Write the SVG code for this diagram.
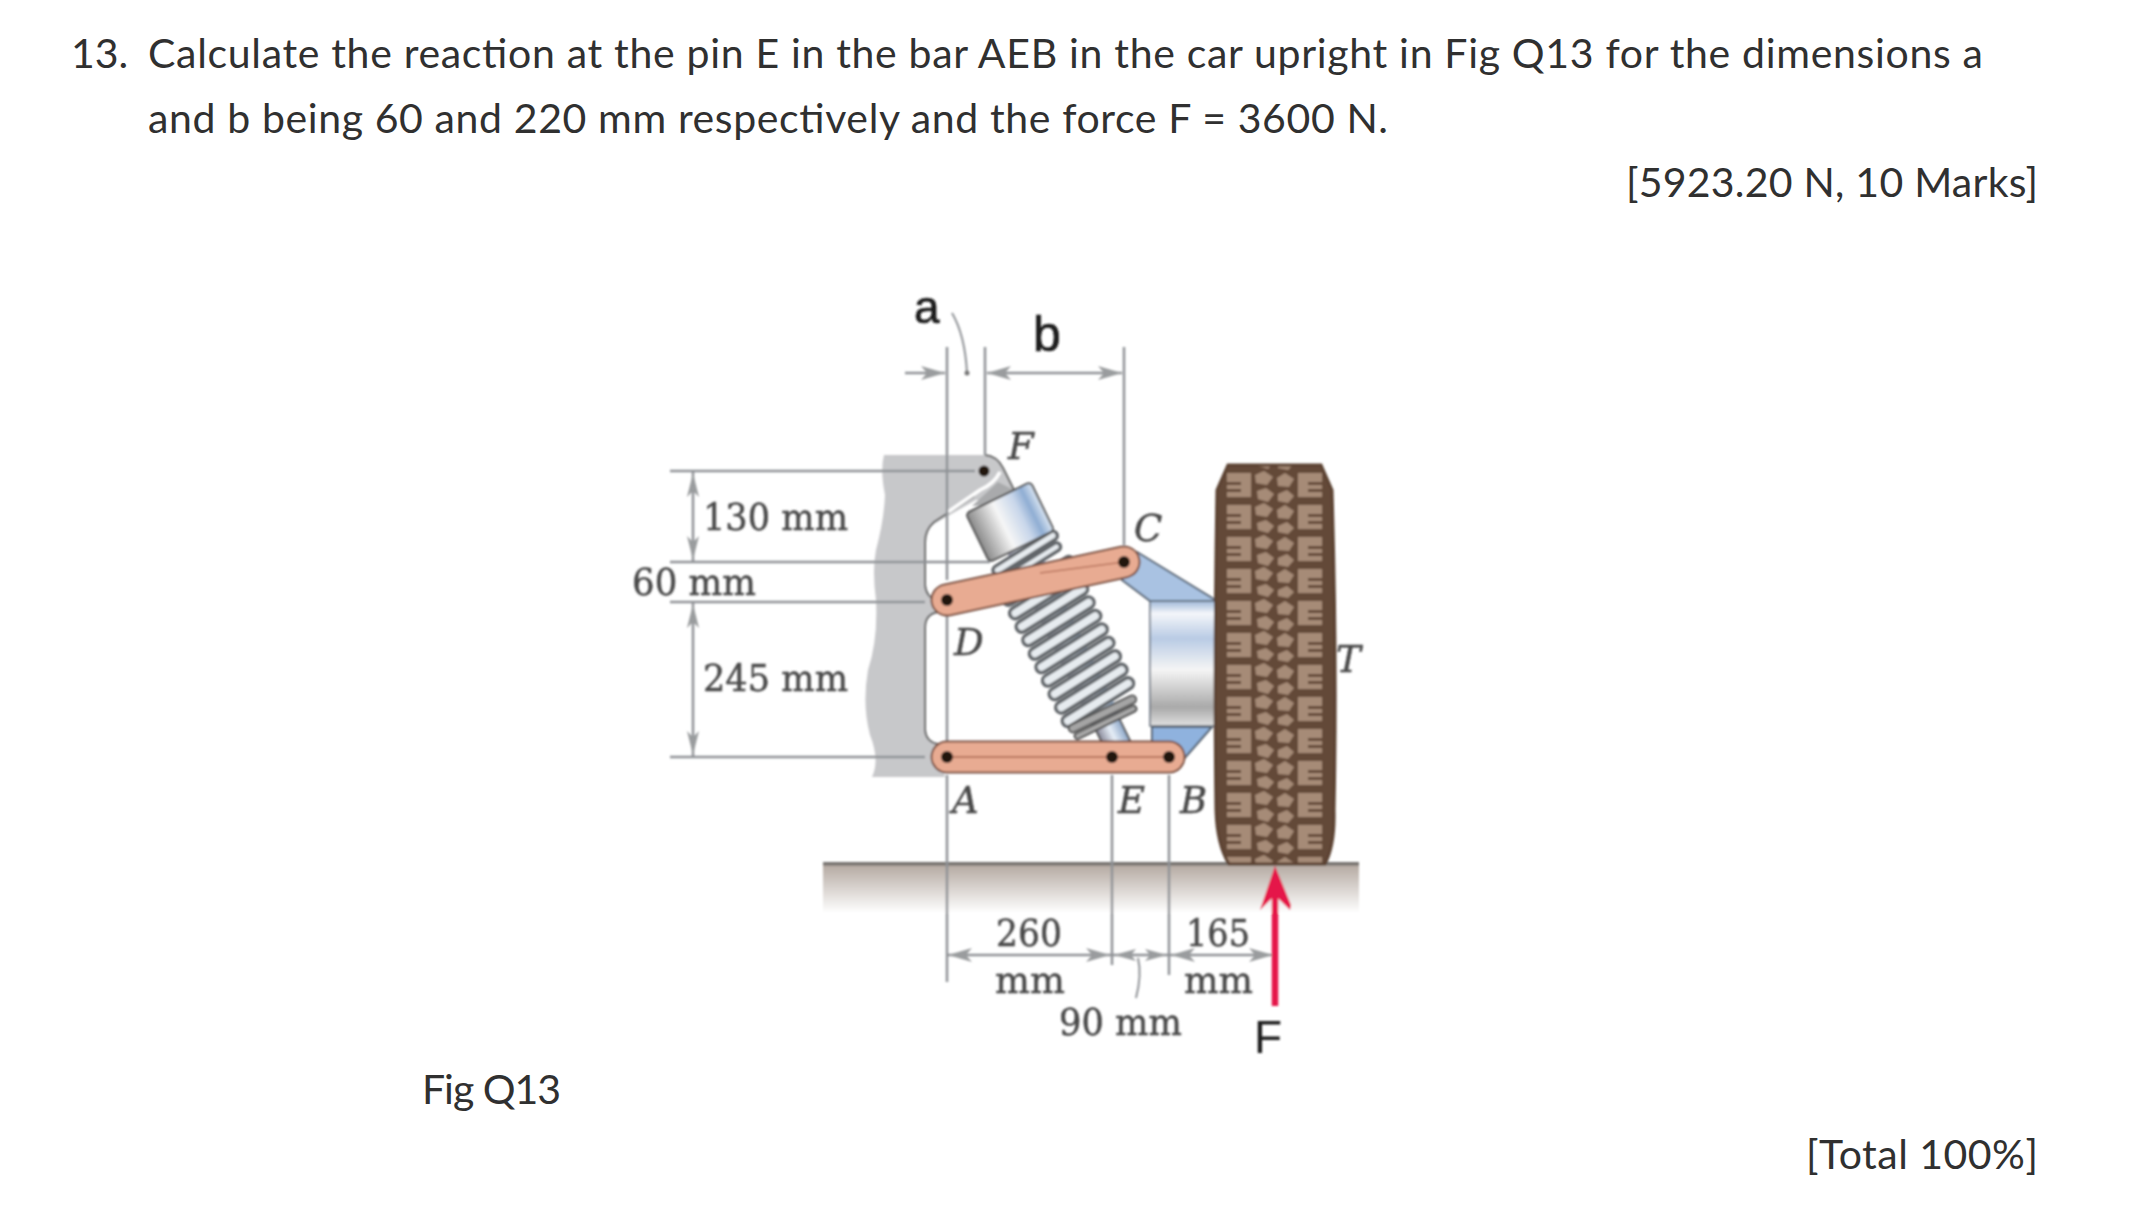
<svg xmlns="http://www.w3.org/2000/svg" width="2155" height="1222" viewBox="0 0 2155 1222">
<style>
.q{font-family:"Lato","Liberation Sans",sans-serif;font-size:41px;fill:#303030}
.d{font-family:"DejaVu Serif","Liberation Serif",serif;font-size:37px;fill:#4a4a4a;stroke:#4a4a4a;stroke-width:.5}
.l{font-family:"DejaVu Serif","Liberation Serif",serif;font-size:37px;font-style:italic;fill:#4a4a4a;stroke:#4a4a4a;stroke-width:.5}
.s{font-family:"Liberation Sans",sans-serif;fill:#1a1a1a}
.g{stroke:#8f9296;stroke-width:2.5;fill:none}
.h{fill:#9a9c9e}
.pin{fill:#20120e}
.coil{fill:#e6ebef;stroke:#62666a;stroke-width:3.500}
</style>
<defs>
<filter id="soft" x="-5%" y="-5%" width="110%" height="110%"><feGaussianBlur stdDeviation="0.8"/></filter>
<linearGradient id="gnd" x1="0" y1="0" x2="0" y2="1"><stop offset="0" stop-color="#b5aaa2"/><stop offset="1" stop-color="#fff"/></linearGradient>
<linearGradient id="hub" x1="0" y1="0" x2="0" y2="1"><stop offset="0" stop-color="#9fb8d8"/><stop offset=".1" stop-color="#f4f6fa"/><stop offset=".3" stop-color="#b9cbe4"/><stop offset=".55" stop-color="#f5f5f5"/><stop offset=".85" stop-color="#a9a9a9"/><stop offset="1" stop-color="#e0e0e0"/></linearGradient>
<linearGradient id="cyl" x1="0" y1="0" x2="1" y2="0"><stop offset="0" stop-color="#8a8a8a"/><stop offset=".4" stop-color="#f6f6f6"/><stop offset=".68" stop-color="#c8d6ea"/><stop offset=".84" stop-color="#8fadd3"/><stop offset="1" stop-color="#dbe6f2"/></linearGradient>
<linearGradient id="rod" x1="0" y1="0" x2="1" y2="0"><stop offset="0" stop-color="#889"/><stop offset=".5" stop-color="#e6eef7"/><stop offset="1" stop-color="#8ca6c8"/></linearGradient>
<pattern id="tread" x="1217" y="470" width="115" height="64" patternUnits="userSpaceOnUse">
<rect width="115" height="64" fill="#644838"/>
<g fill="#a68b77">
<path d="M10 3h24v24h-24v-5h14v-3h-14v-4h14v-3h-14z"/><path d="M10 35h24v24h-24v-5h14v-3h-14v-4h14v-3h-14z"/>
<path d="M105 3h-24v24h24v-5h-14v-3h14v-4h-14v-3h14z"/><path d="M105 35h-24v24h24v-5h-14v-3h14v-4h-14v-3h14z"/>
<path d="M38 5l9-4 9 6-6 8-11-2z"/><path d="M60 8l8-5 9 6-5 8-11-1z"/>
<path d="M40 21l9-3 8 6-6 8-10-3z"/><path d="M61 24l9-4 7 6-6 7-10-2z"/>
<path d="M38 37l9-4 9 6-6 8-11-2z"/><path d="M60 40l8-5 9 6-5 8-11-1z"/>
<path d="M40 53l9-3 8 6-6 7-10-3z"/><path d="M61 56l9-4 7 6-6 6-10-2z"/>
</g>
</pattern>
</defs>
<rect width="2155" height="1222" fill="#fff"/>

<g id="question">
<text class="q" x="71" y="68">13.</text>
<text class="q" x="148" y="68" textLength="1835">Calculate the reaction at the pin E in the bar AEB in the car upright in Fig Q13 for the dimensions a</text>
<text class="q" x="148" y="133" textLength="1240">and b being 60 and 220 mm respectively and the force F = 3600 N.</text>
<text class="q" x="1626" y="197" textLength="412">[5923.20 N, 10 Marks]</text>
<text class="q" x="422" y="1104" textLength="139">Fig Q13</text>
<text class="q" x="1806" y="1169" textLength="232">[Total 100%]</text>
</g>

<g filter="url(#soft)">
<g id="ground">
<rect x="823" y="865" width="536" height="48" fill="url(#gnd)"/>
<rect x="823" y="862" width="536" height="3.500" fill="#77736f"/>
</g>

<g id="wall">
<path d="M884 455H985Q997 456 1003 468L1014 490L1003 500L976 500L934 524Q925 530 925 542V585Q926 598 938 600V612Q925 614 925 628V730Q926 742 938 744L945 777H872Q880 760 870 735Q862 705 868 670Q878 640 876 600Q872 570 876 550Q884 520 885 495Q880 470 884 455Z" fill="#c7c8ca"/>
<path d="M998 482L1014 490L1003 504L972 506Z" fill="#a9aaac"/>
<path d="M985 455Q997 456 1003 468L1014 490M974 496L934 522Q925 530 925 542V585Q926 598 938 600M938 612Q925 614 925 628V730Q926 742 938 744" fill="none" stroke="#666" stroke-width="2"/>
<path d="M1000 472Q994 484 980 490L948 512" fill="none" stroke="#fff" stroke-width="3.500"/>
</g>

<g id="connectors">
<path class="g" d="M670 471H975M670 562H990M670 602H925M670 757H925"/>
<path class="g" d="M947 347V580M947 612V745M947 775V982M985 347V455M1124 347V545M1112 775V965M1169 775V975"/>
<path class="g" d="M693 471V562M693 602V757"/>
<path class="h" d="M693 473l-6 24 6-6 6 6zM693 560l-6-24 6 6 6-6zM693 604l-6 24 6-6 6 6zM693 755l-6-24 6 6 6-6z"/>
<path class="g" d="M905 373H945M987 373H1122"/>
<path class="h" d="M945 373l-24-7 6 7-6 7zM987 373l24-7-6 7 6 7zM1122 373l-24-7 6 7-6 7z"/>
<path class="g" d="M947 955H1273"/>
<path class="h" d="M948 955l24-7-6 7 6 7zM1110 955l-24-7 6 7-6 7zM1114 955l22-6-5 6 5 6zM1167 955l-22-6 5 6-5 6zM1171 955l24-7-6 7 6 7zM1273 955l-24-7 6 7-6 7z"/>
<path d="M952 313Q965 335 967 373" fill="none" stroke="#8f9296" stroke-width="2"/>
<circle cx="967" cy="373" r="2.500" fill="#777"/>
<path d="M1138 958Q1142 975 1136 998" fill="none" stroke="#8f9296" stroke-width="2"/>
</g>

<g id="strut">
<g transform="translate(1010 522) rotate(-26)">
<rect x="-16" y="20" width="30" height="205" fill="url(#rod)"/>
<g class="coil">
<rect x="-37" y="30" width="74" height="9" rx="4.500" transform="rotate(-6 0 34)"/><rect x="-35" y="42" width="70" height="8" rx="4" transform="rotate(-6 0 46)"/>
<rect x="-41" y="60" width="82" height="11" rx="5.500" transform="rotate(-6 0 65)"/><rect x="-41" y="75" width="82" height="11" rx="5.500" transform="rotate(-6 0 80)"/><rect x="-41" y="90" width="82" height="11" rx="5.500" transform="rotate(-6 0 95)"/><rect x="-41" y="105" width="82" height="11" rx="5.500" transform="rotate(-6 0 110)"/><rect x="-41" y="120" width="82" height="11" rx="5.500" transform="rotate(-6 0 125)"/><rect x="-41" y="135" width="82" height="11" rx="5.500" transform="rotate(-6 0 140)"/><rect x="-41" y="150" width="82" height="11" rx="5.500" transform="rotate(-6 0 155)"/><rect x="-41" y="165" width="82" height="11" rx="5.500" transform="rotate(-6 0 170)"/><rect x="-41" y="180" width="82" height="11" rx="5.500" transform="rotate(-6 0 185)"/><rect x="-41" y="195" width="82" height="11" rx="5.500" transform="rotate(-6 0 200)"/>
</g>
<rect x="-38" y="209" width="74" height="8" rx="4" fill="#a5a5a5" stroke="#555" stroke-width="2"/>
<rect x="-36" y="219" width="68" height="6" rx="3" fill="#a8a8a8" stroke="#555" stroke-width="2"/>
<rect x="-14" y="225" width="26" height="36" fill="url(#rod)" stroke="#555" stroke-width="2"/>
<rect x="-36" y="-27" width="72" height="54" rx="4" fill="url(#cyl)" stroke="#555" stroke-width="2"/>
</g>
</g>

<g id="upright">
<path d="M1137 552L1217 601H1150L1122 580Z" fill="#a9c2e2" stroke="#54606e" stroke-width="2"/>
<path d="M1152 727H1212L1183 760L1152 745Z" fill="#8fb2de" stroke="#54606e" stroke-width="2"/>
<rect x="1150" y="601" width="67" height="125" fill="url(#hub)" stroke="#5f6a78" stroke-width="1.500"/>
</g>

<g id="tire">
<path d="M1228 465H1321L1332 490Q1337 660 1334 810Q1335 845 1325 864H1229Q1217 845 1216 810Q1214 660 1217 490Z" fill="url(#tread)" stroke="#5b4232" stroke-width="3"/>
</g>

<g id="bar-CD">
<path d="M947 600L1124 562" stroke="#7a4f40" stroke-width="33" stroke-linecap="round"/>
<path d="M947 600L1124 562" stroke="#e8ab92" stroke-width="29" stroke-linecap="round"/>
<path d="M1040 573L1124 562" stroke="#b9765e" stroke-width="1.500"/>
<circle class="pin" cx="947" cy="600" r="6"/><circle class="pin" cx="1124" cy="562" r="6"/>
</g>
<g id="bar-AEB">
<path d="M947 757H1169" stroke="#7a4f40" stroke-width="33" stroke-linecap="round"/>
<path d="M947 757H1169" stroke="#e8ab92" stroke-width="29" stroke-linecap="round"/>
<path d="M947 757H1169" stroke="#b9765e" stroke-width="2"/>
<circle class="pin" cx="947" cy="757" r="6"/><circle class="pin" cx="1112" cy="757" r="6"/><circle class="pin" cx="1169" cy="757" r="6"/>
</g>
<g id="pin-F"><circle class="pin" cx="984" cy="471" r="5.500"/></g>

<g id="force">
<path d="M1275 1006V885" stroke="#e5174a" stroke-width="6.500" fill="none"/>
<path d="M1275 866L1260 910L1275 895L1290 910L1291 905L1275 866Z" fill="#e5174a"/>
</g>

<g id="labels">
<text class="d" x="703" y="530" textLength="145" lengthAdjust="spacingAndGlyphs">130 mm</text>
<text class="d" x="632" y="595" textLength="124" lengthAdjust="spacingAndGlyphs">60 mm</text>
<text class="d" x="703" y="691" textLength="145" lengthAdjust="spacingAndGlyphs">245 mm</text>
<text class="d" x="996" y="946" textLength="66" lengthAdjust="spacingAndGlyphs">260</text>
<text class="d" x="995" y="993" textLength="70" lengthAdjust="spacingAndGlyphs">mm</text>
<text class="d" x="1186" y="946" textLength="64" lengthAdjust="spacingAndGlyphs">165</text>
<text class="d" x="1184" y="993" textLength="69" lengthAdjust="spacingAndGlyphs">mm</text>
<text class="d" x="1059" y="1035" textLength="123" lengthAdjust="spacingAndGlyphs">90 mm</text>
<text class="l" x="1008" y="459">F</text>
<text class="l" x="1134" y="541">C</text>
<text class="l" x="954" y="655">D</text>
<text class="l" x="952" y="813">A</text>
<text class="l" x="1118" y="813">E</text>
<text class="l" x="1180" y="813">B</text>
<text class="l" x="1336" y="672">T</text>
<text class="s" x="914" y="323" font-size="46" stroke="#1a1a1a" stroke-width=".7">a</text>
<text class="s" x="1033" y="351" font-size="50" stroke="#1a1a1a" stroke-width=".7">b</text>
<text class="s" x="1254" y="1053" font-size="46">F</text>
</g>
</g>
</svg>
